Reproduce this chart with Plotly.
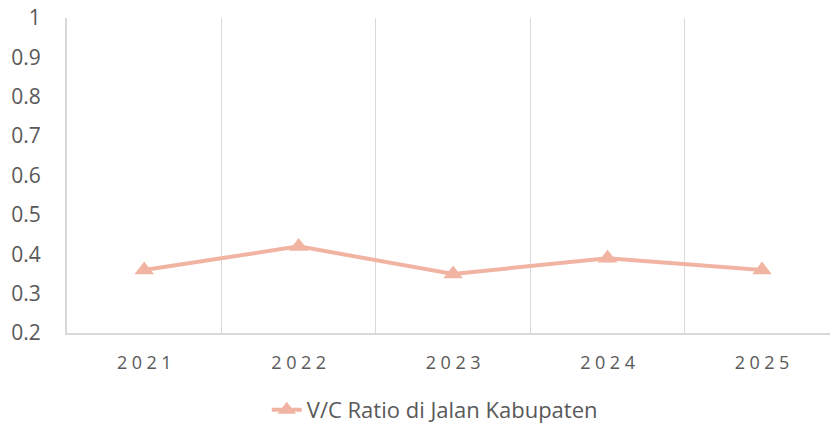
import plotly.graph_objects as go

years = ["2021", "2022", "2023", "2024", "2025"]
vc_ratio = [0.36, 0.42, 0.35, 0.39, 0.36]
series_name = "V/C Ratio di Jalan Kabupaten"
y_ticks = [0.2, 0.3, 0.4, 0.5, 0.6, 0.7, 0.8, 0.9, 1.0]
y_tick_text = ["0.2", "0.3", "0.4", "0.5", "0.6", "0.7", "0.8", "0.9", "1"]

spaced = ["\u2005".join(list(y)) for y in years]

fig = go.Figure()
fig.add_trace(go.Scatter(
    x=years, y=vc_ratio, name=series_name, mode="lines+markers",
    line=dict(color="#F2B4A2", width=4),
    marker=dict(symbol="triangle-up", size=17, color="#F2B4A2"),
))

fig.update_layout(
    width=830, height=425,
    margin=dict(l=67, r=0, t=18, b=92, autoexpand=False),
    paper_bgcolor="white", plot_bgcolor="white",
    font=dict(family="Open Sans", color="#595959"),
    showlegend=True,
    legend=dict(orientation="h", x=0.482, xanchor="center", y=-0.244, yanchor="middle",
                font=dict(size=22, color="#595959")),
    xaxis=dict(
        type="category", tickson="boundaries", range=[-0.5, 4.44], automargin=False,
        tickvals=years, ticktext=spaced,
        showgrid=True, gridcolor="#D9D9D9", gridwidth=1,
        showline=True, linecolor="#D9D9D9", linewidth=2,
        ticks="", tickfont=dict(size=18, color="#595959"),
        ticklabelstandoff=12, zeroline=False,
    ),
    yaxis=dict(
        range=[0.2, 1.0], tickvals=y_ticks, ticktext=y_tick_text, automargin=False,
        showgrid=False, zeroline=False,
        showline=True, linecolor="#D9D9D9", linewidth=2,
        ticks="", tickfont=dict(size=21, color="#595959"),
        ticklabelstandoff=20,
    ),
)

fig.write_html("out.html", config={"displayModeBar": False},
               post_script="document.body.style.margin='0px';")
